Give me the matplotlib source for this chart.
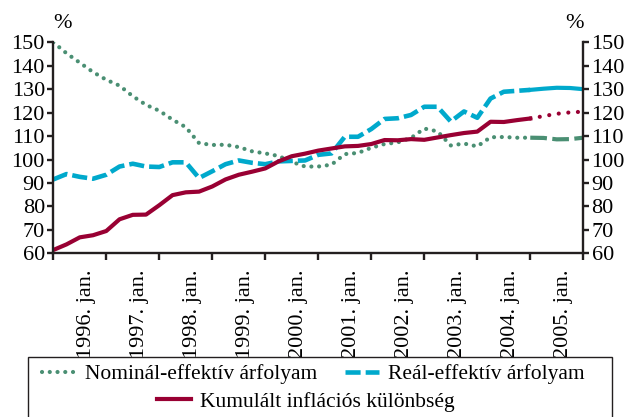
import numpy as np
import matplotlib
matplotlib.use('Agg')
import matplotlib.pyplot as plt
from matplotlib.patches import Rectangle
from matplotlib.transforms import ScaledTranslation

########
# quarterly series, 1995 Q3 .. 2005 Q3, last quarters are forecast
first_quarter = 1995.5
forecast_from = 36   # index where the forecast part starts

nominal = [150.0, 145.3, 141.3, 137.3, 134.0, 131.5, 127.0, 123.3, 120.8, 117.0,
           113.8, 107.0, 106.2, 106.3, 105.3, 103.5, 102.6, 101.5, 99.0, 97.0,
           97.0, 97.8, 102.3, 102.8, 105.0, 106.6, 107.3, 109.2, 113.2, 112.0,
           106.0, 106.8, 105.6, 109.5, 109.6, 109.3, 109.3, 109.2, 108.6, 108.7,
           109.3]
real = [91.5, 93.8, 92.6, 91.8, 93.5, 97.0, 98.2, 97.0, 96.8, 98.8,
        98.8, 92.1, 95.0, 98.0, 99.6, 98.6, 98.0, 99.2, 99.4, 99.6,
        102.0, 102.6, 109.7, 109.7, 113.0, 117.3, 117.6, 119.0, 122.5, 122.5,
        116.2, 120.5, 117.8, 126.0, 128.9, 129.3, 129.7, 130.2, 130.6, 130.5,
        130.0]
inflation = [61.4, 63.8, 66.8, 67.7, 69.5, 74.5, 76.4, 76.5, 80.5, 84.8,
             86.0, 86.3, 88.5, 91.5, 93.5, 94.8, 96.2, 99.2, 101.4, 102.5,
             103.8, 104.7, 105.6, 105.8, 106.6, 108.3, 108.2, 108.7, 108.4, 109.4,
             110.4, 111.3, 111.9, 116.1, 116.0, 116.8, 117.5, 118.5, 119.5, 120.1,
             120.4]

year_labels = ['1996. jan.', '1997. jan.', '1998. jan.', '1999. jan.', '2000. jan.',
               '2001. jan.', '2002. jan.', '2003. jan.', '2004. jan.', '2005. jan.']
label_years = np.arange(1996, 2006)
legend_labels = ['Nominál-effektív árfolyam', 'Reál-effektív árfolyam',
                 'Kumulált inflációs különbség']
###########################

green = '#4a8f73'
blue = '#00a9cc'
red = '#990033'
dark = '#231f20'

plt.rcParams['font.family'] = ['Liberation Serif', 'DejaVu Serif']
fs = 16      # tick labels
fs_leg = 15.5

dates = first_quarter + 0.25 * np.arange(len(nominal))
a = slice(0, forecast_from + 1)
f = slice(forecast_from, None)

fig = plt.figure(figsize=(6.32, 4.17), dpi=100)
ax = fig.add_axes([0.0843, 0.3926, 0.8386, 0.506])

# actual part
l_nom, = ax.plot(dates[a], nominal[a], color=green, lw=3.0, dashes=(0.01, 1.85),
                 dash_capstyle='round')
l_real, = ax.plot(dates[a], real[a], color=blue, lw=3.3, dashes=(3.3, 1.1),
                  dash_capstyle='butt')
l_inf, = ax.plot(dates[a], inflation[a], color=red, lw=3.0, solid_joinstyle='round')
# forecast part
ax.plot(dates[f], nominal[f], color=green, lw=3.0, dashes=(4, 1.3))
ax.plot(dates[f], real[f], color=blue, lw=3.0)
ax.plot(dates[f], inflation[f], color=red, lw=3.0, dashes=(0.01, 2.3),
        dash_capstyle='round')

ax.set_xlim(first_quarter, first_quarter + 10)
ax.set_ylim(60, 150)

for s in ['left', 'right', 'bottom']:
    ax.spines[s].set_color(dark)
    ax.spines[s].set_linewidth(1.7)
ax.spines['top'].set_visible(False)

ax.set_yticks(np.arange(60, 151, 10))
ax.tick_params(axis='y', which='both', left=True, right=True, labelleft=True,
               labelright=True, direction='out', length=4, width=1.7,
               color=dark, labelsize=fs, pad=2)
ax.set_xticks(first_quarter + np.arange(11))
ax.set_xticklabels([])
ax.set_xticks(label_years, minor=True)
ax.set_xticklabels(year_labels, minor=True, rotation=90, va='top', ha='center')
ax.tick_params(axis='x', which='major', direction='out', length=5, width=1.7,
               color=dark)
ax.tick_params(axis='x', which='minor', length=0, labelsize=fs, pad=12)
# labels sit a bit right of the january position in the original
shift = ScaledTranslation(7 / 100, 0, fig.dpi_scale_trans)
for lab in ax.get_xticklabels(minor=True):
    lab.set_transform(lab.get_transform() + shift)

ax.text(0.0, 1.045, '%', transform=ax.transAxes, fontsize=fs, ha='left', va='bottom')
ax.text(1.0, 1.045, '%', transform=ax.transAxes, fontsize=fs, ha='right', va='bottom')

# legend box, open at the bottom
fig.patches.append(Rectangle((0.0448, -0.1), 0.923, 0.2432, transform=fig.transFigure,
                             fill=False, edgecolor=dark, lw=1.0))
fig.legend([l_nom, l_real], legend_labels[:2], ncol=2, frameon=False,
           loc='center left', bbox_to_anchor=(0.066, 0.103), fontsize=fs_leg,
           handlelength=1.6, handletextpad=0.4, columnspacing=1.3,
           borderpad=0, borderaxespad=0)
fig.legend([l_inf], legend_labels[2:], frameon=False, loc='center left',
           bbox_to_anchor=(0.248, 0.036), fontsize=fs_leg, handlelength=1.6,
           handletextpad=0.4, borderpad=0, borderaxespad=0)

plt.savefig('out.png', dpi=100)
